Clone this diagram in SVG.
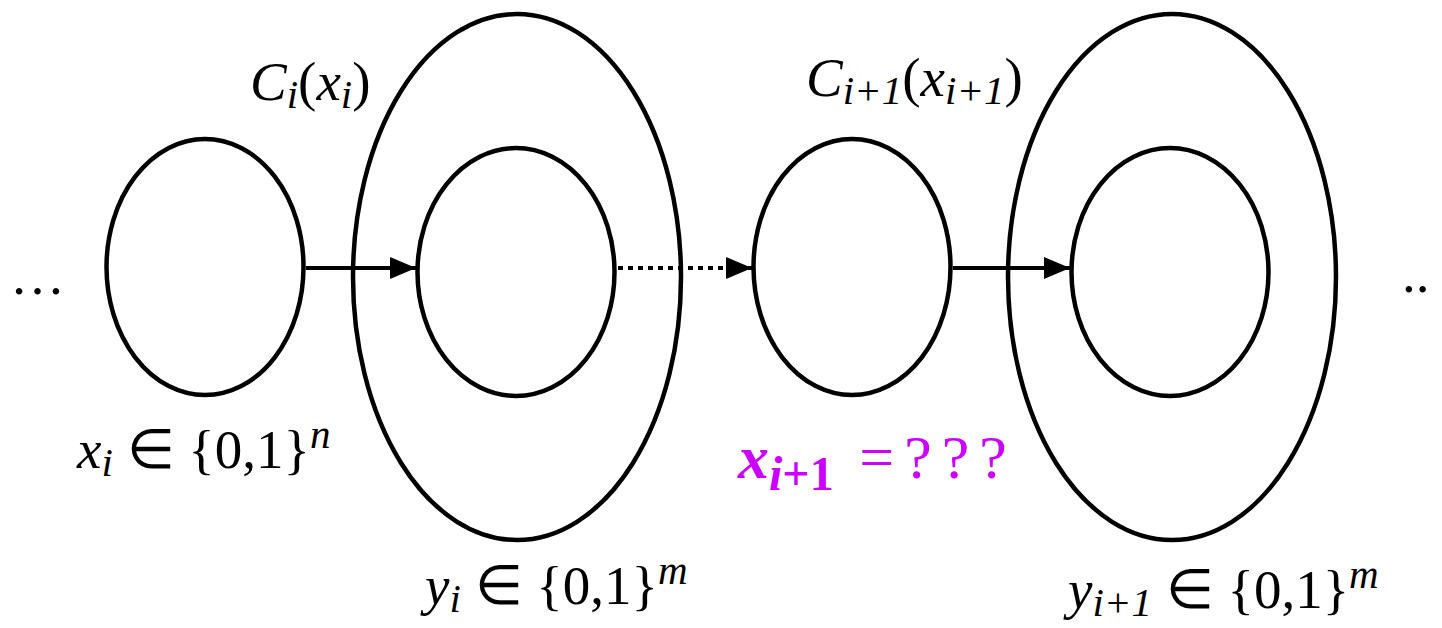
<svg xmlns="http://www.w3.org/2000/svg" width="1442" height="628" viewBox="0 0 1442 628">
<style>
.o{fill:none;stroke:#000;stroke-width:4.5}
.m{font-family:"Liberation Serif",serif;font-size:55px;fill:#000}
.it{font-style:italic}
.sub{font-size:41px;font-style:italic}
.mg{fill:#CC00FF;font-weight:bold;font-size:62px}
.msub{font-size:48px}
.c{stroke:#000;stroke-width:4;fill:none}
</style>
<defs>
<marker id="ah2" markerWidth="26" markerHeight="22" refX="26" refY="11" orient="auto" markerUnits="userSpaceOnUse">
<path d="M0,0 L26,11 L0,22 z" fill="#000"/>
</marker>
</defs>
<rect width="1442" height="628" fill="#fff"/>
<g id="x_i">
<ellipse class="o" cx="205" cy="267" rx="98.5" ry="128"/>
</g>
<g id="C_i">
<ellipse class="o" cx="517" cy="277" rx="164" ry="263"/>
</g>
<g id="y_i">
<ellipse class="o" cx="516" cy="272" rx="98.5" ry="124"/>
</g>
<g id="x_i1">
<ellipse class="o" cx="852" cy="267" rx="98.5" ry="128"/>
</g>
<g id="C_i1">
<ellipse class="o" cx="1172" cy="277" rx="164" ry="263"/>
</g>
<g id="y_i1">
<ellipse class="o" cx="1170" cy="272" rx="98.5" ry="124"/>
</g>
<g id="connectors">
<line class="c" x1="306" y1="268" x2="416" y2="268" marker-end="url(#ah2)"/>
<line class="c" x1="618" y1="268" x2="752" y2="268" stroke-dasharray="5,5" marker-end="url(#ah2)"/>
<line class="c" x1="953" y1="268" x2="1070" y2="268" marker-end="url(#ah2)"/>
</g>
<g id="labels">
<text class="m it" x="250" y="100">C<tspan class="sub" dy="8">i</tspan><tspan dy="-8" font-style="normal">(</tspan>x<tspan class="sub" dy="8">i</tspan><tspan dy="-8" font-style="normal">)</tspan></text>
<text class="m it" x="806" y="96">C<tspan class="sub" dy="8">i</tspan><tspan class="sub" font-style="normal">+1</tspan><tspan dy="-8" font-style="normal">(</tspan>x<tspan class="sub" dy="8">i</tspan><tspan class="sub" font-style="normal">+1</tspan><tspan dy="-8" font-style="normal">)</tspan></text>
<text class="m it" x="77" y="468">x<tspan class="sub" dy="8">i</tspan><tspan dy="-8" font-style="normal"> ∈ {0,1}</tspan><tspan class="sub" dy="-20">n</tspan></text>
<text class="m it mg" x="738" y="478">x<tspan class="msub" dy="12">i</tspan><tspan class="msub" font-style="normal">+1</tspan><tspan dy="-12" font-style="normal" font-weight="normal" letter-spacing="10"> =???</tspan></text>
<text class="m it" x="425" y="604">y<tspan class="sub" dy="8">i</tspan><tspan dy="-8" font-style="normal"> ∈ {0,1}</tspan><tspan class="sub" dy="-20">m</tspan></text>
<text class="m it" x="1068" y="608">y<tspan class="sub" dy="8">i</tspan><tspan class="sub" font-style="normal">+1</tspan><tspan dy="-8" font-style="normal"> ∈ {0,1}</tspan><tspan class="sub" dy="-20">m</tspan></text>
<text class="m" x="10" y="294">…</text>
<text class="m" x="1402" y="292">..</text>
</g>
</svg>
